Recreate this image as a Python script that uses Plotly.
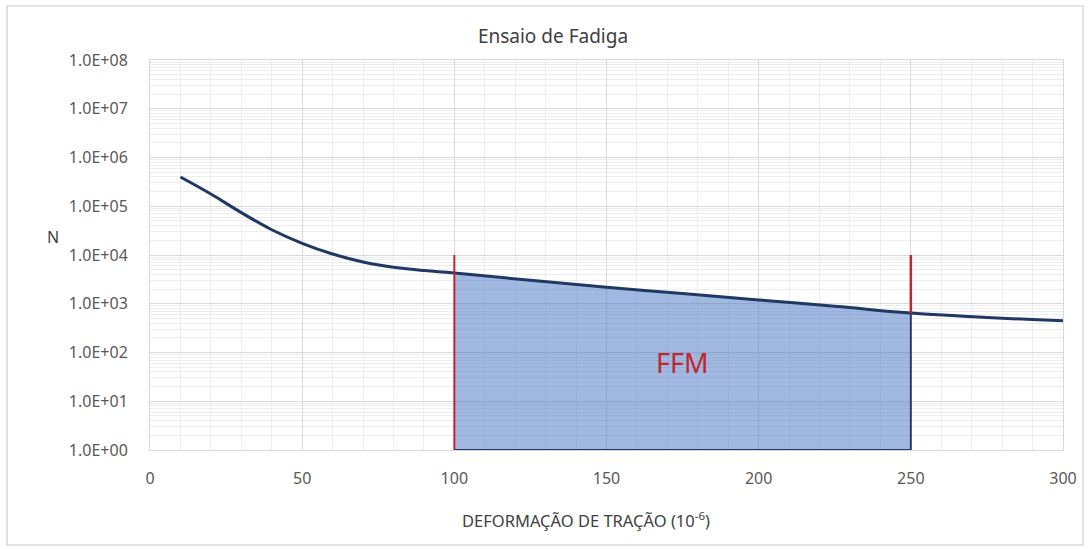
import plotly.graph_objects as go

# Data
deformacao = [10, 20, 30, 40, 50, 60, 70, 80, 90, 100, 125, 150, 175, 200, 225, 250, 275, 300]
ciclos_N = [398000, 178000, 74000, 33000, 17400, 10500, 7200, 5600, 4800, 4270,
            3020, 2190, 1620, 1200, 890, 645, 525, 447]

ffm_start = 100
ffm_end = 250
marker_top = 1e4
y_base = 1

y_tickvals = [1, 10, 100, 1e3, 1e4, 1e5, 1e6, 1e7, 1e8]
y_ticktext = ["1.0E+00", "1.0E+01", "1.0E+02", "1.0E+03", "1.0E+04",
              "1.0E+05", "1.0E+06", "1.0E+07", "1.0E+08"]
x_tickvals = [0, 50, 100, 150, 200, 250, 300]

navy = "#1f3864"
red = "#c0262d"
font = "Noto Sans, Open Sans, sans-serif"

ffm_x = [x for x in deformacao if ffm_start <= x <= ffm_end]
ffm_y = [n for x, n in zip(deformacao, ciclos_N) if ffm_start <= x <= ffm_end]
n_end = ffm_y[-1]

fig = go.Figure()

# baseline of the FFM area
fig.add_trace(go.Scatter(x=ffm_x, y=[y_base] * len(ffm_x), mode="lines",
                         line=dict(color=navy, width=2), hoverinfo="skip",
                         showlegend=False))
# FFM area
fig.add_trace(go.Scatter(x=ffm_x, y=ffm_y, mode="lines", fill="tonexty",
                         fillcolor="rgba(68,114,196,0.5)",
                         line=dict(color=navy, width=0, shape="spline"),
                         showlegend=False))
# right edge of area
fig.add_trace(go.Scatter(x=[ffm_end, ffm_end], y=[y_base, n_end], mode="lines",
                         line=dict(color="#2e3a66", width=2), showlegend=False))
# main curve
fig.add_trace(go.Scatter(x=deformacao, y=ciclos_N, mode="lines",
                         line=dict(color=navy, width=3, shape="spline", smoothing=1.3),
                         showlegend=False))
# red markers
fig.add_trace(go.Scatter(x=[ffm_start, ffm_start], y=[y_base, marker_top], mode="lines",
                         line=dict(color=red, width=2), showlegend=False))
fig.add_trace(go.Scatter(x=[ffm_end, ffm_end], y=[n_end, marker_top], mode="lines",
                         line=dict(color=red, width=2.5), showlegend=False))

fig.add_annotation(x=175, y=1.8, xref="x", yref="y", yanchor="middle", text="FFM",
                   showarrow=False, font=dict(size=27, color=red, family=font))
fig.add_annotation(x=(45 - 150) / 913, y=(450 - 237) / 390, xref="paper", yref="paper",
                   text="N", showarrow=False,
                   font=dict(size=16, color="#404040", family=font))
fig.add_annotation(x=(586 - 150) / 913, y=(450 - 520) / 390, xref="paper", yref="paper",
                   text="DEFORMAÇÃO DE TRAÇÃO (10<sup>-6</sup>)", showarrow=False,
                   xanchor="center", yanchor="middle",
                   font=dict(size=16.5, color="#404040", family=font))

# outer border
fig.add_shape(type="rect", xref="paper", yref="paper",
              x0=(7 - 150) / 913, x1=(1083 - 150) / 913,
              y0=(450 - 545) / 390, y1=(450 - 6) / 390,
              line=dict(color="#d9d9d9", width=1.5), fillcolor="rgba(0,0,0,0)", layer="below")

fig.update_layout(
    width=1091, height=549,
    margin=dict(l=150, r=28, t=60, b=99),
    paper_bgcolor="white", plot_bgcolor="white",
    title=dict(text="Ensaio de Fadiga", x=553 / 1091, xanchor="center", y=1 - 36 / 549,
               yanchor="middle", font=dict(size=19, color="#404040", family=font)),
    font=dict(family=font, color="#595959", size=16),
    xaxis=dict(range=[0, 300], tickvals=x_tickvals, showgrid=True,
               gridcolor="#d9d9d9", gridwidth=1,
               minor=dict(dtick=10, showgrid=True, gridcolor="#ededed", gridwidth=1),
               showline=True, linecolor="#d9d9d9", mirror=True, zeroline=False,
               ticks="", ticklabelstandoff=14),
    yaxis=dict(type="log", range=[0, 8], tickvals=y_tickvals, ticktext=y_ticktext,
               showgrid=True, gridcolor="#d9d9d9", gridwidth=1,
               minor=dict(dtick="D1", showgrid=True, gridcolor="#ededed", gridwidth=1),
               showline=True, linecolor="#d9d9d9", mirror=True, zeroline=False,
               ticks="", ticklabelstandoff=18),
)

fig.write_html("out.html")
